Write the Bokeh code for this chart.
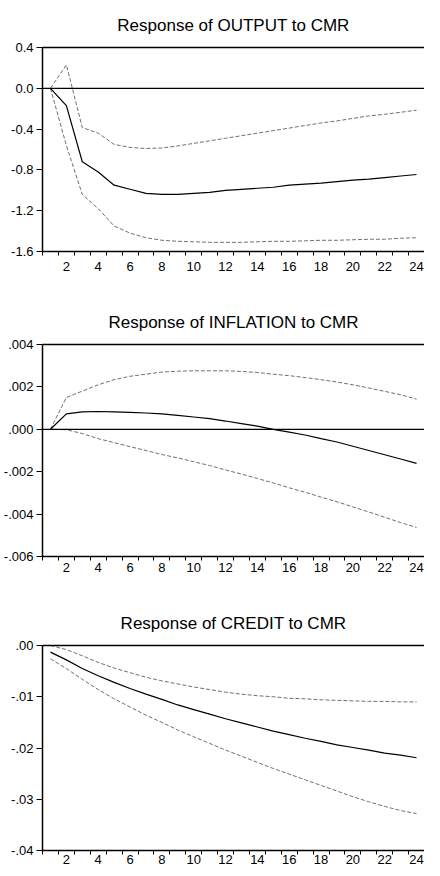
from bokeh.plotting import figure
from bokeh.layouts import column
from bokeh.models import FixedTicker, LinearAxis, Range1d, Span
from bokeh.embed import file_html
from bokeh.resources import INLINE

periods = list(range(1, 25))

output_mid = [0.0, -0.17, -0.72, -0.82, -0.95, -0.99, -1.03, -1.04, -1.04, -1.03, -1.02, -1.00,
              -0.99, -0.98, -0.97, -0.95, -0.94, -0.93, -0.915, -0.90, -0.89, -0.875, -0.86, -0.845]
output_hi = [0.0, 0.23, -0.385, -0.44, -0.55, -0.58, -0.59, -0.585, -0.565, -0.54, -0.515, -0.49,
             -0.465, -0.44, -0.415, -0.39, -0.365, -0.34, -0.32, -0.295, -0.27, -0.255, -0.235, -0.215]
output_lo = [0.0, -0.56, -1.04, -1.18, -1.35, -1.42, -1.465, -1.49, -1.50, -1.505, -1.51, -1.51,
             -1.51, -1.505, -1.50, -1.50, -1.495, -1.49, -1.49, -1.485, -1.48, -1.48, -1.47, -1.465]

infl_mid = [0.0, 0.00073, 0.00082, 0.00084, 0.00082, 0.0008, 0.00077, 0.00073, 0.00066, 0.00058,
            0.0005, 0.00039, 0.00027, 0.00015, 0.0, -0.00013, -0.00027, -0.00044, -0.0006, -0.0008,
            -0.001, -0.0012, -0.0014, -0.00161]
infl_hi = [0.0, 0.0015, 0.0018, 0.0021, 0.00234, 0.0025, 0.0026, 0.0027, 0.00274, 0.00276, 0.00276,
           0.00276, 0.00273, 0.00268, 0.0026, 0.00253, 0.00244, 0.00234, 0.00223, 0.0021, 0.00195,
           0.00179, 0.00163, 0.00142]
infl_lo = [0.0, -0.00002, -0.0002, -0.00044, -0.00063, -0.00082, -0.001, -0.00119, -0.00135, -0.00153,
           -0.00171, -0.00192, -0.00211, -0.00232, -0.00253, -0.00276, -0.00297, -0.0032, -0.00342,
           -0.00366, -0.0039, -0.00415, -0.0044, -0.00463]

credit_mid = [-0.0013, -0.0028, -0.0045, -0.0059, -0.0072, -0.0084, -0.0095, -0.0105, -0.0116, -0.0125,
              -0.0134, -0.0143, -0.0151, -0.0159, -0.0167, -0.0174, -0.0181, -0.0187, -0.0194, -0.0199,
              -0.0204, -0.021, -0.0214, -0.0219]
credit_hi = [0.0, -0.0008, -0.002, -0.0033, -0.0044, -0.0053, -0.0062, -0.0069, -0.0075, -0.0081,
             -0.0086, -0.0091, -0.0095, -0.0098, -0.01, -0.0103, -0.0104, -0.0106, -0.0107, -0.0108,
             -0.0109, -0.0109, -0.011, -0.011]
credit_lo = [-0.0026, -0.0045, -0.0066, -0.0086, -0.0104, -0.012, -0.0136, -0.015, -0.0165, -0.0178,
             -0.0191, -0.0204, -0.0216, -0.0228, -0.024, -0.0251, -0.0262, -0.0273, -0.0284, -0.0295,
             -0.0305, -0.0314, -0.0322, -0.0328]

titles = ["Response of OUTPUT to CMR", "Response of INFLATION to CMR", "Response of CREDIT to CMR"]

out_ticks = [0.4, 0.0, -0.4, -0.8, -1.2, -1.6]
out_labels = ["0.4", "0.0", "-0.4", "-0.8", "-1.2", "-1.6"]
infl_ticks = [0.004, 0.002, 0.0, -0.002, -0.004, -0.006]
infl_labels = [".004", ".002", ".000", "-.002", "-.004", "-.006"]
cred_ticks = [0.0, -0.01, -0.02, -0.03, -0.04]
cred_labels = [".00", "-.01", "-.02", "-.03", "-.04"]

x_labels = [2, 4, 6, 8, 10, 12, 14, 16, 18, 20, 22, 24]
x_bounds = [k + 0.5 for k in range(0, 25)]

FONT = "Liberation Sans"


def panel(title, mid, hi, lo, yticks, ylabels, height, btop, bbot, standoff, zero_line):
    p = figure(width=424, height=height, output_backend="svg", toolbar_location=None,
               x_range=Range1d(0.5, 24.5), y_range=Range1d(yticks[-1], yticks[0]),
               min_border_left=40, min_border_right=0, min_border_top=btop,
               min_border_bottom=bbot, x_axis_location="below")
    p.title.text = title
    p.title.align = "center"
    p.title.text_font = FONT
    p.title.text_font_size = "17px"
    p.title.text_font_style = "normal"
    p.title.text_color = "black"
    p.title.standoff = 26
    p.outline_line_color = None
    p.grid.visible = False
    p.background_fill_color = "white"
    p.border_fill_color = "white"

    # tick-mark axis: ticks between periods, no labels drawn
    xa = p.xaxis[0]
    xa.ticker = FixedTicker(ticks=x_bounds)
    xa.major_tick_out = 4
    xa.major_tick_in = 0
    xa.major_tick_line_color = "black"
    xa.minor_tick_line_color = None
    xa.axis_line_color = "black"
    xa.axis_line_width = 1.5
    xa.major_label_standoff = 0
    xa.major_label_text_color = None

    # label axis: labels at even periods, no ticks or line
    lab = LinearAxis(ticker=FixedTicker(ticks=x_labels), major_tick_out=0, major_tick_in=0,
                     minor_tick_line_color=None, major_tick_line_color=None,
                     axis_line_color=None, major_label_standoff=standoff,
                     major_label_text_font=FONT, major_label_text_font_size="13px",
                     major_label_text_color="black")
    p.add_layout(lab, "below")

    ya = p.yaxis[0]
    ya.ticker = FixedTicker(ticks=yticks)
    ya.major_label_overrides = {t: l for t, l in zip(yticks, ylabels)}
    ya.major_tick_out = 6
    ya.major_tick_in = 0
    ya.minor_tick_line_color = None
    ya.axis_line_color = "black"
    ya.axis_line_width = 1.5
    ya.major_tick_line_color = "black"
    ya.major_label_standoff = 3
    ya.major_label_text_font = FONT
    ya.major_label_text_font_size = "13px"
    ya.major_label_text_color = "black"

    top = LinearAxis(ticker=FixedTicker(ticks=[]), major_tick_out=0, major_tick_in=0,
                     minor_tick_out=0, minor_tick_in=0, axis_line_color="black",
                     axis_line_width=1.5, major_label_text_color=None)
    p.add_layout(top, "above")

    if zero_line:
        p.add_layout(Span(location=0, dimension="width", line_color="black", line_width=1.3))

    p.line(periods, hi, line_color="#707070", line_width=1, line_dash="4 2")
    p.line(periods, lo, line_color="#707070", line_width=1, line_dash="4 2")
    p.line(periods, mid, line_color="black", line_width=1.2)
    return p


p1 = panel(titles[0], output_mid, output_hi, output_lo, out_ticks, out_labels, 296, 43, 45, 6, True)
p2 = panel(titles[1], infl_mid, infl_hi, infl_lo, infl_ticks, infl_labels, 300, 48, 40, 2, True)
p3 = panel(titles[2], credit_mid, credit_hi, credit_lo, cred_ticks, cred_labels, 272, 49, 18, 0, False)

layout = column(p1, p2, p3, spacing=0)

with open("out.html", "w") as f:
    f.write(file_html(layout, INLINE))
